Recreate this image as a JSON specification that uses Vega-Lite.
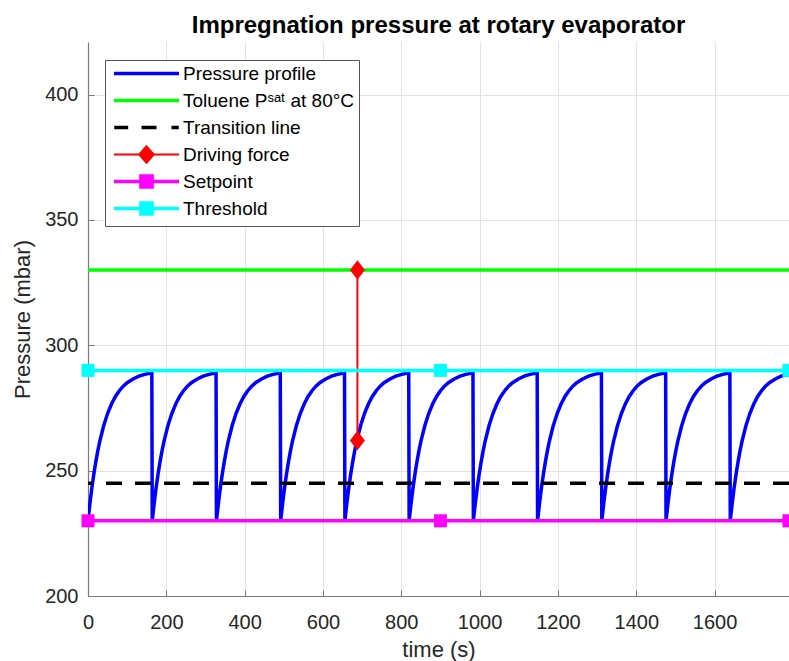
{
  "$schema": "https://vega.github.io/schema/vega-lite/v6.json",
  "autosize": {"type": "none"},
  "padding": {"left": 88, "top": 42, "right": 0, "bottom": 65},
  "width": 701,
  "height": 554,
  "background": "white",
  "title": {
    "text": "Impregnation pressure at rotary evaporator",
    "font": "Liberation Sans",
    "fontSize": 24,
    "fontWeight": "bold",
    "color": "black",
    "offset": 4
  },
  "config": {
    "view": {"stroke": null},
    "axis": {
      "labelFont": "Liberation Sans",
      "labelFontSize": 20,
      "labelColor": "#262626",
      "titleFont": "Liberation Sans",
      "titleFontSize": 22,
      "titleFontWeight": "normal",
      "titleColor": "#262626",
      "domainColor": "#7a7a7a",
      "domainWidth": 1.2,
      "tickColor": "#7a7a7a",
      "tickSize": -6,
      "gridColor": "#e3e3e3",
      "gridWidth": 1,
      "grid": true
    }
  },
  "datasets": {
    "profile": [
      {"t": 0, "p": 230}, {"t": 5, "p": 237.0}, {"t": 10, "p": 243.3}, {"t": 15, "p": 248.8}, {"t": 20, "p": 253.6}, {"t": 25, "p": 257.9}, {"t": 30, "p": 261.7}, {"t": 40, "p": 267.9}, {"t": 50, "p": 272.8}, {"t": 60, "p": 276.6}, {"t": 70, "p": 279.6}, {"t": 80, "p": 281.9}, {"t": 90, "p": 283.7}, {"t": 100, "p": 285.1}, {"t": 115, "p": 286.6}, {"t": 130, "p": 287.7}, {"t": 145, "p": 288.4}, {"t": 163, "p": 289.0},
      {"t": 164, "p": 230}, {"t": 169, "p": 237.0}, {"t": 174, "p": 243.3}, {"t": 179, "p": 248.8}, {"t": 184, "p": 253.6}, {"t": 189, "p": 257.9}, {"t": 194, "p": 261.7}, {"t": 204, "p": 267.9}, {"t": 214, "p": 272.8}, {"t": 224, "p": 276.6}, {"t": 234, "p": 279.6}, {"t": 244, "p": 281.9}, {"t": 254, "p": 283.7}, {"t": 264, "p": 285.1}, {"t": 279, "p": 286.6}, {"t": 294, "p": 287.7}, {"t": 309, "p": 288.4}, {"t": 327, "p": 289.0},
      {"t": 328, "p": 230}, {"t": 333, "p": 237.0}, {"t": 338, "p": 243.3}, {"t": 343, "p": 248.8}, {"t": 348, "p": 253.6}, {"t": 353, "p": 257.9}, {"t": 358, "p": 261.7}, {"t": 368, "p": 267.9}, {"t": 378, "p": 272.8}, {"t": 388, "p": 276.6}, {"t": 398, "p": 279.6}, {"t": 408, "p": 281.9}, {"t": 418, "p": 283.7}, {"t": 428, "p": 285.1}, {"t": 443, "p": 286.6}, {"t": 458, "p": 287.7}, {"t": 473, "p": 288.4}, {"t": 491, "p": 289.0},
      {"t": 492, "p": 230}, {"t": 497, "p": 237.0}, {"t": 502, "p": 243.3}, {"t": 507, "p": 248.8}, {"t": 512, "p": 253.6}, {"t": 517, "p": 257.9}, {"t": 522, "p": 261.7}, {"t": 532, "p": 267.9}, {"t": 542, "p": 272.8}, {"t": 552, "p": 276.6}, {"t": 562, "p": 279.6}, {"t": 572, "p": 281.9}, {"t": 582, "p": 283.7}, {"t": 592, "p": 285.1}, {"t": 607, "p": 286.6}, {"t": 622, "p": 287.7}, {"t": 637, "p": 288.4}, {"t": 655, "p": 289.0},
      {"t": 656, "p": 230}, {"t": 661, "p": 237.0}, {"t": 666, "p": 243.3}, {"t": 671, "p": 248.8}, {"t": 676, "p": 253.6}, {"t": 681, "p": 257.9}, {"t": 686, "p": 261.7}, {"t": 696, "p": 267.9}, {"t": 706, "p": 272.8}, {"t": 716, "p": 276.6}, {"t": 726, "p": 279.6}, {"t": 736, "p": 281.9}, {"t": 746, "p": 283.7}, {"t": 756, "p": 285.1}, {"t": 771, "p": 286.6}, {"t": 786, "p": 287.7}, {"t": 801, "p": 288.4}, {"t": 819, "p": 289.0},
      {"t": 820, "p": 230}, {"t": 825, "p": 237.0}, {"t": 830, "p": 243.3}, {"t": 835, "p": 248.8}, {"t": 840, "p": 253.6}, {"t": 845, "p": 257.9}, {"t": 850, "p": 261.7}, {"t": 860, "p": 267.9}, {"t": 870, "p": 272.8}, {"t": 880, "p": 276.6}, {"t": 890, "p": 279.6}, {"t": 900, "p": 281.9}, {"t": 910, "p": 283.7}, {"t": 920, "p": 285.1}, {"t": 935, "p": 286.6}, {"t": 950, "p": 287.7}, {"t": 965, "p": 288.4}, {"t": 983, "p": 289.0},
      {"t": 984, "p": 230}, {"t": 989, "p": 237.0}, {"t": 994, "p": 243.3}, {"t": 999, "p": 248.8}, {"t": 1004, "p": 253.6}, {"t": 1009, "p": 257.9}, {"t": 1014, "p": 261.7}, {"t": 1024, "p": 267.9}, {"t": 1034, "p": 272.8}, {"t": 1044, "p": 276.6}, {"t": 1054, "p": 279.6}, {"t": 1064, "p": 281.9}, {"t": 1074, "p": 283.7}, {"t": 1084, "p": 285.1}, {"t": 1099, "p": 286.6}, {"t": 1114, "p": 287.7}, {"t": 1129, "p": 288.4}, {"t": 1147, "p": 289.0},
      {"t": 1148, "p": 230}, {"t": 1153, "p": 237.0}, {"t": 1158, "p": 243.3}, {"t": 1163, "p": 248.8}, {"t": 1168, "p": 253.6}, {"t": 1173, "p": 257.9}, {"t": 1178, "p": 261.7}, {"t": 1188, "p": 267.9}, {"t": 1198, "p": 272.8}, {"t": 1208, "p": 276.6}, {"t": 1218, "p": 279.6}, {"t": 1228, "p": 281.9}, {"t": 1238, "p": 283.7}, {"t": 1248, "p": 285.1}, {"t": 1263, "p": 286.6}, {"t": 1278, "p": 287.7}, {"t": 1293, "p": 288.4}, {"t": 1311, "p": 289.0},
      {"t": 1312, "p": 230}, {"t": 1317, "p": 237.0}, {"t": 1322, "p": 243.3}, {"t": 1327, "p": 248.8}, {"t": 1332, "p": 253.6}, {"t": 1337, "p": 257.9}, {"t": 1342, "p": 261.7}, {"t": 1352, "p": 267.9}, {"t": 1362, "p": 272.8}, {"t": 1372, "p": 276.6}, {"t": 1382, "p": 279.6}, {"t": 1392, "p": 281.9}, {"t": 1402, "p": 283.7}, {"t": 1412, "p": 285.1}, {"t": 1427, "p": 286.6}, {"t": 1442, "p": 287.7}, {"t": 1457, "p": 288.4}, {"t": 1475, "p": 289.0},
      {"t": 1476, "p": 230}, {"t": 1481, "p": 237.0}, {"t": 1486, "p": 243.3}, {"t": 1491, "p": 248.8}, {"t": 1496, "p": 253.6}, {"t": 1501, "p": 257.9}, {"t": 1506, "p": 261.7}, {"t": 1516, "p": 267.9}, {"t": 1526, "p": 272.8}, {"t": 1536, "p": 276.6}, {"t": 1546, "p": 279.6}, {"t": 1556, "p": 281.9}, {"t": 1566, "p": 283.7}, {"t": 1576, "p": 285.1}, {"t": 1591, "p": 286.6}, {"t": 1606, "p": 287.7}, {"t": 1621, "p": 288.4}, {"t": 1639, "p": 289.0},
      {"t": 1640, "p": 230}, {"t": 1645, "p": 237.0}, {"t": 1650, "p": 243.3}, {"t": 1655, "p": 248.8}, {"t": 1660, "p": 253.6}, {"t": 1665, "p": 257.9}, {"t": 1670, "p": 261.7}, {"t": 1680, "p": 267.9}, {"t": 1690, "p": 272.8}, {"t": 1700, "p": 276.6}, {"t": 1710, "p": 279.6}, {"t": 1720, "p": 281.9}, {"t": 1730, "p": 283.7}, {"t": 1740, "p": 285.1}, {"t": 1755, "p": 286.6}, {"t": 1770, "p": 287.7}, {"t": 1785, "p": 288.4}, {"t": 1790, "p": 288.6}
    ],
    "levels": [
      {"name": "Toluene Pˢᵃᵗ at 80°C", "p": 330},
      {"name": "Transition line", "p": 245}
    ],
    "driving": [
      {"t": 688, "p": 262, "p2": 330}
    ],
    "markers": [
      {"name": "Setpoint", "t": 0, "p": 230},
      {"name": "Setpoint", "t": 900, "p": 230},
      {"name": "Setpoint", "t": 1790, "p": 230},
      {"name": "Threshold", "t": 0, "p": 290},
      {"name": "Threshold", "t": 900, "p": 290},
      {"name": "Threshold", "t": 1790, "p": 290}
    ]
  },
  "layer": [
    {
      "data": {"name": "profile"},
      "mark": {"type": "line", "strokeWidth": 3.5, "strokeJoin": "miter", "clip": true},
      "encoding": {
        "x": {
          "field": "t",
          "type": "quantitative",
          "title": "time (s)",
          "scale": {"domain": [0, 1790], "nice": false, "zero": false},
          "axis": {"values": [0, 200, 400, 600, 800, 1000, 1200, 1400, 1600], "format": "d", "labelPadding": 22, "titlePadding": 7, "labelFlush": false}
        },
        "y": {
          "field": "p",
          "type": "quantitative",
          "title": "Pressure (mbar)",
          "scale": {"domain": [200, 421], "nice": false, "zero": false},
          "axis": {"values": [200, 250, 300, 350, 400], "format": "d", "labelPadding": 16, "titlePadding": 10, "labelFlush": false}
        },
        "color": {
          "datum": "Pressure profile",
          "type": "nominal",
          "scale": {
            "domain": ["Pressure profile", "Toluene Pˢᵃᵗ at 80°C", "Transition line", "Driving force", "Setpoint", "Threshold"],
            "range": ["#0000ff", "#00ff00", "#000000", "#ff0000", "#ff00ff", "#00ffff"]
          },
          "legend": {
            "title": null,
            "orient": "none",
            "legendX": 17,
            "legendY": 18,
            "strokeColor": "#555555",
            "fillColor": "white",
            "padding": 4,
            "gridAlign": "all",
            "symbolOffset": 28,
            "symbolSize": 676,
            "rowPadding": 0,
            "labelOffset": 27,
            "labelFont": "Liberation Sans",
            "labelFontSize": 19,
            "labelColor": "black",
            "labelLimit": 400,
            "encode": {
              "symbols": {
                "update": {
                  "shape": {"signal": "datum.value === 'Driving force' ? 'M-2.5,0H2.5M0,-0.63L0.56,0L0,0.63L-0.56,0Z' : (datum.value === 'Setpoint' || datum.value === 'Threshold') ? 'M-2.5,0H2.5M-0.43,-0.43H0.43V0.43H-0.43Z' : datum.value === 'Transition line' ? 'M-2.48,0H-1.41M-0.38,0H0.77M1.92,0H2.48' : 'M-2.5,0H2.5'"},
                  "strokeWidth": {"signal": "datum.value === 'Driving force' ? 2 : 3.5"},
                  "fill": {"scale": "color", "field": "value"},
                  "stroke": {"scale": "color", "field": "value"},
                  "opacity": {"value": 1},
                  "fillOpacity": {"value": 1},
                  "strokeOpacity": {"value": 1}
                }
              }
            }
          }
        }
      }
    },
    {
      "data": {"name": "levels"},
      "transform": [{"filter": "datum.name === 'Toluene Pˢᵃᵗ at 80°C'"}],
      "mark": {"type": "rule", "strokeWidth": 3.5},
      "encoding": {
        "y": {"field": "p", "type": "quantitative"},
        "color": {"datum": "Toluene Pˢᵃᵗ at 80°C", "type": "nominal"}
      }
    },
    {
      "data": {"name": "levels"},
      "transform": [{"filter": "datum.name === 'Transition line'"}],
      "mark": {"type": "rule", "strokeWidth": 3.5, "strokeDash": [16, 13]},
      "encoding": {
        "y": {"field": "p", "type": "quantitative"},
        "color": {"datum": "Transition line", "type": "nominal"}
      }
    },
    {
      "data": {"name": "driving"},
      "mark": {"type": "rule", "strokeWidth": 2},
      "encoding": {
        "x": {"field": "t", "type": "quantitative"},
        "y": {"field": "p", "type": "quantitative"},
        "y2": {"field": "p2"},
        "color": {"datum": "Driving force", "type": "nominal"}
      }
    },
    {
      "data": {"name": "driving"},
      "transform": [{"fold": ["p", "p2"], "as": ["end", "value"]}],
      "mark": {"type": "point", "filled": true, "opacity": 1, "size": 225, "shape": "M0,-1.3L1,0L0,1.3L-1,0Z"},
      "encoding": {
        "x": {"field": "t", "type": "quantitative"},
        "y": {"field": "value", "type": "quantitative"},
        "color": {"datum": "Driving force", "type": "nominal"}
      }
    },
    {
      "data": {"name": "markers"},
      "transform": [{"filter": "datum.name === 'Setpoint'"}],
      "mark": {"type": "rule", "strokeWidth": 3.5},
      "encoding": {
        "y": {"field": "p", "type": "quantitative", "aggregate": "min"},
        "color": {"datum": "Setpoint", "type": "nominal"}
      }
    },
    {
      "data": {"name": "markers"},
      "transform": [{"filter": "datum.name === 'Setpoint'"}],
      "mark": {"type": "point", "filled": true, "opacity": 1, "size": 169, "shape": "square"},
      "encoding": {
        "x": {"field": "t", "type": "quantitative"},
        "y": {"field": "p", "type": "quantitative"},
        "color": {"datum": "Setpoint", "type": "nominal"}
      }
    },
    {
      "data": {"name": "markers"},
      "transform": [{"filter": "datum.name === 'Threshold'"}],
      "mark": {"type": "rule", "strokeWidth": 3.5},
      "encoding": {
        "y": {"field": "p", "type": "quantitative", "aggregate": "min"},
        "color": {"datum": "Threshold", "type": "nominal"}
      }
    },
    {
      "data": {"name": "markers"},
      "transform": [{"filter": "datum.name === 'Threshold'"}],
      "mark": {"type": "point", "filled": true, "opacity": 1, "size": 169, "shape": "square"},
      "encoding": {
        "x": {"field": "t", "type": "quantitative"},
        "y": {"field": "p", "type": "quantitative"},
        "color": {"datum": "Threshold", "type": "nominal"}
      }
    }
  ]
}
